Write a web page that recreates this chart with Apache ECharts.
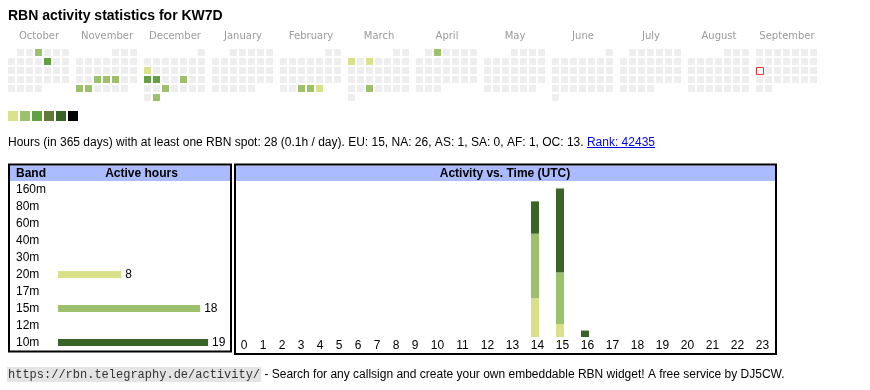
<!DOCTYPE html>
<html><head><meta charset="utf-8">
<script src="https://cdn.jsdelivr.net/npm/echarts@6/dist/echarts.min.js"></script>
<style>html,body{margin:0;padding:0;background:#fff}#c{width:870px;height:390px}</style>
</head><body><div id="c"></div>
<script>
// ---------- data ----------
const callsign = 'KW7D';
const monthNames = ['October','November','December','January','February','March','April','May','June','July','August','September'];
const monthKeys = ['2024-10','2024-11','2024-12','2025-01','2025-02','2025-03','2025-04','2025-05','2025-06','2025-07','2025-08','2025-09'];
const activeDays = ['2024-10-03','2024-10-11','2024-11-20','2024-11-21','2024-11-22','2024-11-25','2024-11-26',
  '2024-12-09','2024-12-16','2024-12-17','2024-12-20','2024-12-25','2024-12-31',
  '2025-02-26','2025-02-27','2025-02-28','2025-03-03','2025-03-05','2025-03-26','2025-04-02'];
const activeLevels = [2,3,2,2,2,2,2, 1,3,3,2,2,2, 2,2,1,1,1,2,2];
const today = '2025-09-15';
const levelValues = [1,2,3,4,5,6];
const bands = ['160m','80m','60m','40m','30m','20m','17m','15m','12m','10m'];
const bandHours = [0,0,0,0,0,8,0,18,0,19];
const hourLabels = ['0','1','2','3','4','5','6','7','8','9','10','11','12','13','14','15','16','17','18','19','20','21','22','23'];
const hours20m = [0,0,0,0,0,0,0,0,0,0,0,0,0,0,6,2,0,0,0,0,0,0,0,0];
const hours15m = [0,0,0,0,0,0,0,0,0,0,0,0,0,0,10,8,0,0,0,0,0,0,0,0];
const hours10m = [0,0,0,0,0,0,0,0,0,0,0,0,0,0,5,13,1,0,0,0,0,0,0,0];
const statDays = 365, statHours = 28, statPerDay = '0.1';
const continents = ['EU','NA','AS','SA','AF','OC'];
const continentHours = [15,26,1,0,1,13];
const rank = 42435;
const siteUrl = 'https://rbn.telegraphy.de/activity/';
const footerText = ' - Search for any callsign and create your own embeddable RBN widget! A free service by DJ5CW.';

// ---------- styles ----------
const levelColors = ['#d9e18b','#9dc06b','#63a043','#62793a','#386426','#000000'];
const bandColor = {'20m':'#d9e08a','15m':'#9dc06b','10m':'#3a6427'};
const SANS = '"Liberation Sans", Arial, sans-serif';

const chart = echarts.init(document.getElementById('c'), null, {renderer:'canvas'});

function measure(text, font){
  const cv = document.createElement('canvas').getContext('2d');
  cv.font = font; return cv.measureText(text).width;
}

const calendars = monthKeys.map((m,i)=>({
  orient:'vertical', range:m, cellSize:[9,9], left:7+i*68, top:48,
  dayLabel:{show:false, firstDay:1}, monthLabel:{show:false}, yearLabel:{show:false},
  splitLine:{show:false},
  itemStyle:{color:'#eeeeee', borderColor:'#ffffff', borderWidth:2}
}));

const series = [];
monthKeys.forEach((m,i)=>{
  const d = [];
  activeDays.forEach((day,k)=>{ if(day.startsWith(m)) d.push([day, activeLevels[k]]); });
  series.push({type:'heatmap', coordinateSystem:'calendar', calendarIndex:i, data:d,
    itemStyle:{borderWidth:0}, silent:true});
});
series.push({type:'scatter', coordinateSystem:'calendar', calendarIndex:11, data:[[today,1]],
  symbol:'rect', symbolSize:7, symbolOffset:[0.5,0.5], silent:true,
  itemStyle:{color:'#ffffff', borderColor:'#ee0000', borderWidth:1}});
series.push({type:'bar', xAxisIndex:0, yAxisIndex:0, barWidth:7, silent:true,
  data: bandHours.map((v,i)=>({value:v, itemStyle:{color: bandColor[bands[i]] || '#cccccc'}})),
  label:{show:true, position:'right', distance:4, color:'#000', fontSize:12, fontFamily:SANS,
    formatter:p=> p.value>0 ? String(p.value) : ''}});
const hourSets = [['20m',hours20m],['15m',hours15m],['10m',hours10m]];
[[1,0,10],[2,10,24]].forEach(([ax,a,b])=>{
  hourSets.forEach(([band,arr])=>{
    series.push({type:'bar', xAxisIndex:ax, yAxisIndex:ax, stack:'s'+ax, barWidth:8, silent:true,
      data: arr.slice(a,b), itemStyle:{color:bandColor[band]}});
  });
});

const statsText = `Hours (in ${statDays} days) with at least one RBN spot: ${statHours} (${statPerDay}h / day). ` +
  continents.map((c,i)=>`${c}: ${continentHours[i]}`).join(', ') + '. ';
const linkText = `Rank: ${rank}`;
const statFont = '12px ' + SANS;
const statW = measure(statsText, statFont);
const linkW = measure(linkText, statFont);

const graphic = [
  {type:'text', left:8, top:9, style:{text:`RBN activity statistics for ${callsign}`, font:'bold 14px '+SANS, fill:'#000'}},
  ...monthNames.map((n,i)=>({type:'text', x:8+i*68+31, y:36, style:{text:n, font:'10px "DejaVu Sans", sans-serif', fill:'#9a9a9a', align:'center', verticalAlign:'middle'}})),
  {type:'text', x:8, y:142.5, style:{text:statsText, font:statFont, fill:'#000', verticalAlign:'middle'}},
  {type:'text', x:8+statW, y:142.5, style:{text:linkText, font:statFont, fill:'#0000ee', verticalAlign:'middle'}},
  {type:'line', shape:{x1:8+statW, y1:147.5, x2:8+statW+linkW, y2:147.5}, style:{stroke:'#0000ee', lineWidth:1}},
  // table boxes
  {type:'rect', shape:{x:10, y:165.5, width:220, height:15.5}, style:{fill:'#aabbff'}, z:-1},
  {type:'rect', shape:{x:236, y:165.5, width:539, height:15.5}, style:{fill:'#aabbff'}, z:-1},
  {type:'rect', shape:{x:9, y:164.5, width:222, height:187}, style:{fill:'none', stroke:'#000', lineWidth:2}},
  {type:'rect', shape:{x:235, y:164.5, width:541, height:189.5}, style:{fill:'none', stroke:'#000', lineWidth:2}},
  {type:'text', x:16, y:173.5, style:{text:'Band', font:'bold 12px '+SANS, fill:'#000', verticalAlign:'middle'}},
  {type:'text', x:141.5, y:173.5, style:{text:'Active hours', font:'bold 12px '+SANS, fill:'#000', align:'center', verticalAlign:'middle'}},
  {type:'text', x:505, y:173.5, style:{text:'Activity vs. Time (UTC)', font:'bold 12px '+SANS, fill:'#000', align:'center', verticalAlign:'middle'}},
  // footer
  {type:'text', x:7, y:374.5, style:{
    text:`{code|${siteUrl}}{t|${footerText}}`, verticalAlign:'middle',
    rich:{
      code:{fontFamily:'"Liberation Mono", "Courier New", monospace', fontSize:12, fill:'#333', backgroundColor:'#e4e4e4', padding:[2,1,1,1]},
      t:{fontFamily:SANS, fontSize:12, fill:'#000'}
    }}}
];

const option = {
  animation:false,
  backgroundColor:'#ffffff',
  calendar: calendars,
  visualMap:{type:'piecewise', seriesIndex:[0,1,2,3,4,5,6,7,8,9,10,11], orient:'horizontal',
    left:8, top:111, padding:0, itemWidth:10, itemHeight:10, itemGap:2, itemSymbol:'rect',
    showLabel:false, selectedMode:false, hoverLink:false,
    pieces: levelValues.map((v,i)=>({value:v, color:levelColors[i]}))},
  grid:[
    {left:58, top:181, width:158, height:170},
    {left:232, top:182, width:190, height:155},
    {left:422.5, top:182, width:350, height:155}
  ],
  xAxis:[
    {type:'value', gridIndex:0, min:0, max:20, show:false},
    {type:'category', gridIndex:1, data:hourLabels.slice(0,10), axisLine:{show:false}, axisTick:{show:false},
      axisLabel:{fontSize:12, fontFamily:SANS, color:'#000', margin:3, padding:[0,0,0,5], interval:0}},
    {type:'category', gridIndex:2, data:hourLabels.slice(10), axisLine:{show:false}, axisTick:{show:false},
      axisLabel:{fontSize:12, fontFamily:SANS, color:'#000', margin:3, padding:[0,0,0,5], interval:0}}
  ],
  yAxis:[
    {type:'category', gridIndex:0, data:bands, inverse:true, axisLine:{show:false}, axisTick:{show:false},
      axisLabel:{align:'left', margin:42, fontSize:12, fontFamily:SANS, color:'#000', interval:0}},
    {type:'value', gridIndex:1, min:0, max:24, show:false},
    {type:'value', gridIndex:2, min:0, max:24, show:false}
  ],
  series: series,
  graphic: graphic
};
chart.setOption(option);
</script></body></html>
